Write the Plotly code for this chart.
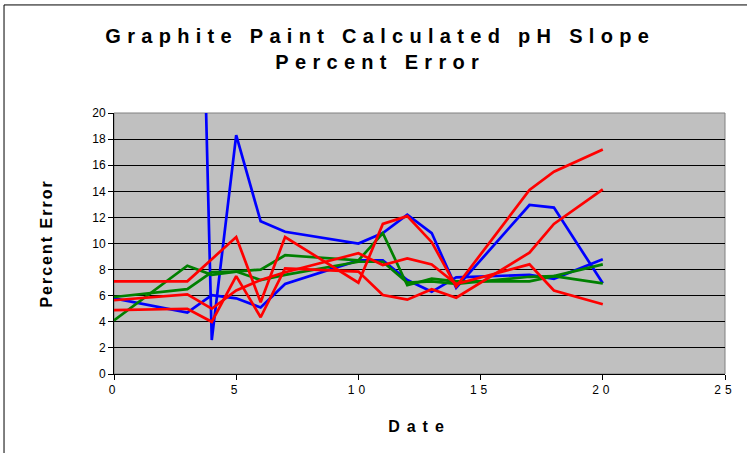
import plotly.graph_objects as go

# sample dates shared by every series
dates = [0, 3, 4, 5, 6, 7, 10, 11, 12, 13, 14, 17, 18, 20]

# percent error per run
blue_1 = [None, 78.0, 2.6, 18.3, 11.7, 10.9, 10.0, 10.8, 12.2, 10.8, 6.6, 12.95, 12.75, 6.95]
blue_2 = [5.8, 4.7, 6.05, 5.8, 5.1, 6.9, 8.7, 8.7, 7.2, 6.3, 7.4, 7.6, 7.3, 8.8]
green_1 = [4.1, 8.3, 7.6, 7.85, 8.0, 9.1, 8.7, 10.8, 6.8, 7.3, 7.1, 7.1, 7.5, 8.4]
green_2 = [5.9, 6.5, 7.8, 7.85, 7.2, 7.6, 8.6, 8.6, 7.0, 7.1, 6.9, 7.45, 7.5, 6.95]
red_1 = [7.1, 7.1, 8.8, 10.5, 5.5, 10.5, 7.0, 11.5, 12.1, 10.1, 6.7, 14.1, 15.5, 17.2]
red_2 = [5.65, 6.1, 5.0, 6.4, 7.2, 7.8, 9.25, 8.35, 8.85, 8.4, 6.9, 8.4, 6.4, 5.35]
red_3 = [4.9, 5.0, 4.0, 7.5, 4.35, 8.1, 7.85, 6.05, 5.7, 6.5, 5.85, 9.3, 11.5, 14.15]

series = [
    (blue_1, "#0000FF"),
    (blue_2, "#0000FF"),
    (green_1, "#008000"),
    (green_2, "#008000"),
    (red_1, "#FF0000"),
    (red_2, "#FF0000"),
    (red_3, "#FF0000"),
]

FONT = "Arial, Liberation Sans, sans-serif"

fig = go.Figure()
for vals, col in series:
    fig.add_trace(
        go.Scatter(
            x=dates,
            y=vals,
            mode="lines",
            line=dict(color=col, width=2.7),
            showlegend=False,
        )
    )

# gray plot border (top/right), drawn over grid but under lines
fig.add_shape(
    type="rect", xref="paper", yref="paper", x0=0, x1=1, y0=0, y1=1,
    line=dict(color="#808080", width=1), layer="between",
)
# outer chart frame
fig.add_shape(
    type="rect", xref="paper", yref="paper", x0=-0.18, x1=1.2, y0=-0.6, y1=1.414,
    line=dict(color="black", width=1),
)

fig.update_layout(
    width=747,
    height=453,
    margin=dict(l=114, r=22, t=113, b=79),
    paper_bgcolor="white",
    plot_bgcolor="#C0C0C0",
    font=dict(family=FONT, color="black", size=12),
    title=dict(
        text="<b>Graphite Paint Calculated pH Slope<br>Percent Error</b>",
        x=0.509,
        xanchor="center",
        y=0.904,
        yanchor="middle",
        font=dict(family=FONT, size=20, color="black"),
    ),
    xaxis=dict(
        range=[0, 25],
        dtick=5,
        tick0=0,
        showgrid=False,
        zeroline=False,
        showline=True,
        linecolor="black",
        linewidth=1,
        ticks="outside",
        ticklen=5,
        tickcolor="black",
        tickfont=dict(size=12),
        title=dict(text="<b>Date</b>", font=dict(size=16), standoff=24),
    ),
    yaxis=dict(
        range=[0, 20],
        dtick=2,
        tick0=0,
        showgrid=True,
        gridcolor="black",
        gridwidth=1,
        zeroline=False,
        showline=True,
        linecolor="black",
        linewidth=1,
        ticks="outside",
        ticklen=5,
        tickcolor="black",
        tickfont=dict(size=12),
        title=dict(text="<b>Percent Error</b>", font=dict(size=16), standoff=35),
    ),
)

# no page margin, plus Excel-style letter spacing on titles and x tick labels
spacing_js = """
document.body.style.margin = '0';
var gd = document.getElementById('{plot_id}');
function sp(sel, v) { gd.querySelectorAll(sel).forEach(function (t) { t.style.letterSpacing = v; }); }
sp('.gtitle', '6.3px');
sp('.g-xtitle text', '7px');
sp('.g-ytitle text', '2px');
sp('.xtick text', '4px');
"""

fig.write_html("out.html", post_script=spacing_js, config={"displayModeBar": False})
